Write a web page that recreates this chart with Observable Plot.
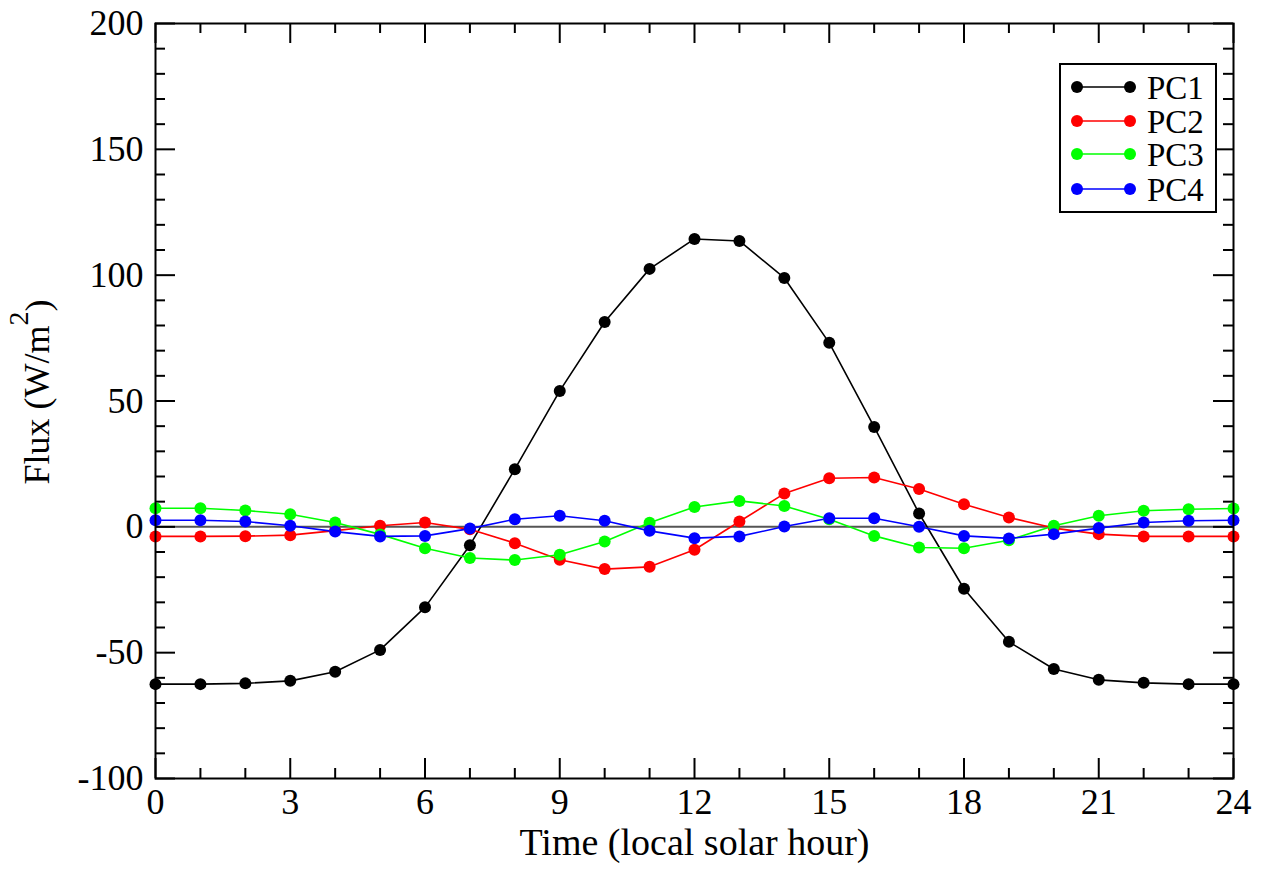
<!DOCTYPE html>
<html>
<head>
<meta charset="utf-8">
<script src="https://cdn.jsdelivr.net/npm/d3@7"></script>
<script src="https://cdn.jsdelivr.net/npm/@observablehq/plot@0.6"></script>
<style>
  html, body { margin: 0; padding: 0; background: white; }
  #wrap { position: relative; width: 1266px; height: 869px; }
  #legend { position: absolute; left: 1059px; top: 63px; }
  text { font-family: "Liberation Serif", "Times New Roman", serif; }
</style>
</head>
<body>
<div id="wrap"></div>
<script>
const hours = [0,1,2,3,4,5,6,7,8,9,10,11,12,13,14,15,16,17,18,19,20,21,22,23,24];
const seriesNames = ["PC1","PC2","PC3","PC4"];
const seriesColors = ["#000000","#ff0000","#00ff00","#0000ff"];
const pc1 = [-62.5,-62.5,-62.2,-61.2,-57.6,-48.9,-32,-7.3,22.9,54,81.4,102.5,114.4,113.6,98.9,73.1,39.7,5.3,-24.6,-45.7,-56.5,-60.8,-62,-62.5,-62.5];
const pc2 = [-3.8,-3.8,-3.7,-3.3,-1.5,0.4,1.7,-1,-6.5,-13.1,-16.8,-15.9,-9.1,2.1,13.2,19.3,19.6,15,9,3.7,-0.5,-2.9,-3.8,-3.8,-3.8];
const pc3 = [7.4,7.4,6.5,5,1.7,-3,-8.5,-12.4,-13.2,-11.1,-5.8,1.6,7.9,10.3,8.3,3,-3.6,-8.2,-8.5,-5.3,0.4,4.4,6.4,7,7.3];
const pc4 = [2.6,2.6,2.1,0.4,-1.9,-3.8,-3.6,-0.7,3,4.4,2.4,-1.6,-4.5,-3.8,0.1,3.4,3.4,0,-3.6,-4.6,-2.9,-0.5,1.7,2.4,2.6];
const xMajor = [0,3,6,9,12,15,18,21,24];
const xMinor = [1,2,4,5,7,8,10,11,13,14,16,17,19,20,22,23];
const yMajor = [-100,-50,0,50,100,150,200];
const yMinor = [-90,-80,-70,-60,-40,-30,-20,-10,10,20,30,40,60,70,80,90,110,120,130,140,160,170,180,190];
const xTitle = "Time (local solar hour)";

const seriesValues = [pc1, pc2, pc3, pc4];
const rows = [];
seriesNames.forEach((s, i) => hours.forEach((h, j) => rows.push({hour: h, value: seriesValues[i][j], series: s})));

const W = 1266, H = 869, mL = 155, mR = 33, mT = 23, mB = 91;
const fw = W - mL - mR, fh = H - mT - mB;
const majorLen = 20, minorLen = 10;
const font = "Liberation Serif";

const tickMarksX = (vals, len) => [
  Plot.ruleX(vals, {x: d => d, insetTop: fh - len, stroke: "black", strokeWidth: 2}),
  Plot.ruleX(vals, {x: d => d, insetBottom: fh - len, stroke: "black", strokeWidth: 2}),
];
const tickMarksY = (vals, len) => [
  Plot.ruleY(vals, {y: d => d, insetRight: fw - len, stroke: "black", strokeWidth: 2}),
  Plot.ruleY(vals, {y: d => d, insetLeft: fw - len, stroke: "black", strokeWidth: 2}),
];

const chart = Plot.plot({
  width: W, height: H,
  marginLeft: mL, marginRight: mR, marginTop: mT, marginBottom: mB,
  x: {domain: [0, 24]},
  y: {domain: [-100, 200]},
  color: {domain: seriesNames, range: seriesColors},
  style: {fontFamily: font, fontSize: "36px", background: "white", color: "black"},
  marks: [
    Plot.ruleY([0], {stroke: "#555", strokeWidth: 2}),
    ...tickMarksX(xMajor, majorLen),
    ...tickMarksX(xMinor, minorLen),
    ...tickMarksY(yMajor, majorLen),
    ...tickMarksY(yMinor, minorLen),
    Plot.line(rows, {x: "hour", y: "value", z: "series", stroke: "series", strokeWidth: 1.6}),
    Plot.dot(rows, {x: "hour", y: "value", fill: "series", r: 6}),
    Plot.frame({stroke: "black", strokeWidth: 2}),
    Plot.axisX({ticks: xMajor, tickSize: 0, tickPadding: 10, label: null, fontSize: 36, fontFamily: font, tickFormat: d => String(d)}),
    Plot.axisY({ticks: yMajor, tickSize: 0, tickPadding: 12, label: null, fontSize: 36, fontFamily: font, tickFormat: d => String(d)}),
    Plot.text([xTitle], {text: d => d, frameAnchor: "bottom", lineAnchor: "middle", dy: 64, fontSize: 38, fontFamily: font, fill: "black"})
  ]
});
document.getElementById("wrap").appendChild(chart);

// Y axis title with superscript
const svg = d3.select(chart);
const yt = svg.append("text")
  .attr("transform", `translate(49,392) rotate(-90)`)
  .attr("text-anchor", "middle")
  .style("font-family", "'Liberation Serif', serif")
  .attr("font-size", 36)
  .attr("fill", "black");
yt.append("tspan").text("Flux (W/m");
yt.append("tspan").attr("dy", "-0.75em").attr("font-size", 28).text("2");
yt.append("tspan").attr("dy", "0.6em").text(")");

// Legend
const lg = d3.select("#wrap").append("svg").attr("id", "legend")
  .attr("width", 160).attr("height", 152);
lg.append("rect").attr("x", 1).attr("y", 1).attr("width", 156).attr("height", 148)
  .attr("fill", "white").attr("stroke", "black").attr("stroke-width", 2);
const rowY = [24, 58, 91, 126];
seriesNames.forEach((s, i) => {
  const g = lg.append("g").attr("transform", `translate(0,${rowY[i]})`);
  g.append("line").attr("x1", 18).attr("x2", 71).attr("y1", 0).attr("y2", 0)
    .attr("stroke", seriesColors[i]).attr("stroke-width", 1.6);
  g.append("circle").attr("cx", 18).attr("cy", 0).attr("r", 6).attr("fill", seriesColors[i]);
  g.append("circle").attr("cx", 71).attr("cy", 0).attr("r", 6).attr("fill", seriesColors[i]);
  g.append("text").attr("x", 88).attr("y", 0).attr("dy", "0.35em")
    .style("font-family", "'Liberation Serif', serif")
    .attr("font-size", 33).attr("fill", "black").text(s);
});
</script>
</body>
</html>
